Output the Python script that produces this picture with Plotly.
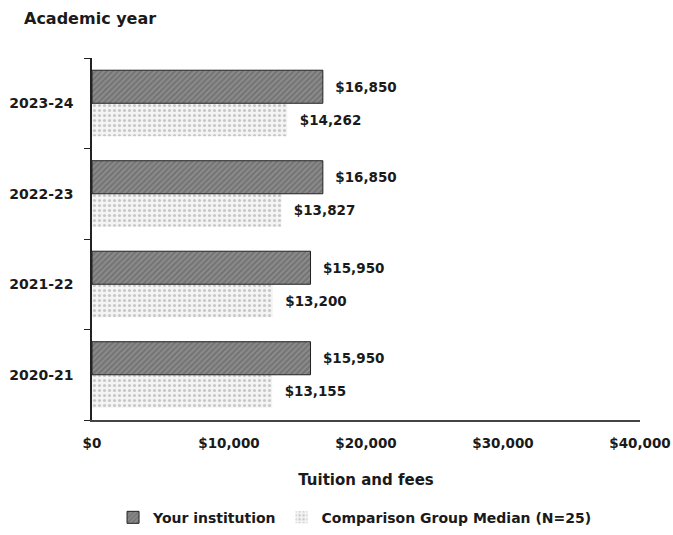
import plotly.graph_objects as go

years = ["2020-21", "2021-22", "2022-23", "2023-24"]
your_institution = [15950, 15950, 16850, 16850]
comparison_median = [13155, 13200, 13827, 14262]
x_ticks = [0, 10000, 20000, 30000, 40000]
x_tick_labels = ["$0", "$10,000", "$20,000", "$30,000", "$40,000"]

font_family = "DejaVu Sans, Verdana, sans-serif"
txt_color = "#1a1a1a"
bold_font = dict(family=font_family, size=14, color=txt_color, weight="bold")
label_font = dict(family=font_family, size=13.5, color=txt_color, weight="bold")

fig = go.Figure()
fig.add_trace(go.Bar(
    y=years, x=comparison_median, orientation="h",
    name="Comparison Group Median (N=25)",
    marker=dict(color="#ffffff", line=dict(width=0),
                pattern=dict(shape=".", fgcolor="#999999", bgcolor="#f4f4f4", size=5, solidity=0.3)),
    text=[f"\u00a0\u00a0${v:,}" for v in comparison_median], textposition="outside",
    textfont=label_font, cliponaxis=False, legendrank=2,
))
fig.add_trace(go.Bar(
    y=years, x=your_institution, orientation="h",
    name="Your institution",
    marker=dict(color="#7a7a7a", line=dict(width=1, color="#222222"),
                pattern=dict(shape="/", fgcolor="#555555", bgcolor="#8a8a8a", size=4, solidity=0.4)),
    text=[f"\u00a0\u00a0${v:,}" for v in your_institution], textposition="outside",
    textfont=label_font, cliponaxis=False, legendrank=1,
))

fig.update_layout(
    width=673, height=535,
    margin=dict(l=92, r=33, t=58, b=115, autoexpand=False),
    barmode="group", bargap=0.27, bargroupgap=0.0,
    plot_bgcolor="white", paper_bgcolor="white",
    font=bold_font,
    showlegend=True,
    legend=dict(orientation="h", x=0.48, xanchor="center", y=-0.27, yanchor="middle",
                font=bold_font),
    xaxis=dict(range=[0, 40000], tickvals=x_ticks, ticktext=x_tick_labels, automargin=False,
               showgrid=False, zeroline=False, showline=True, linecolor="#444444", linewidth=1.5,
               ticks="", ticklabelstandoff=10, tickfont=label_font,
               title=dict(text="Tuition and fees", standoff=25,
                          font=dict(family=font_family, size=15, color=txt_color, weight="bold"))),
    yaxis=dict(categoryorder="array", categoryarray=years, automargin=False,
               showgrid=False, zeroline=False, showline=True, linecolor="#222222", linewidth=1.5,
               ticks="outside", tickson="boundaries", ticklen=6, tickcolor="#222222",
               ticklabelstandoff=14, tickfont=bold_font),
    annotations=[dict(text="Academic year", xref="paper", yref="paper", x=-0.128, y=1.11,
                      xanchor="left", yanchor="middle", showarrow=False,
                      font=dict(family=font_family, size=16, color=txt_color, weight="bold"))],
)

fig.write_html("out.html", config={"displayModeBar": False},
               post_script="document.body.style.margin='0';")
